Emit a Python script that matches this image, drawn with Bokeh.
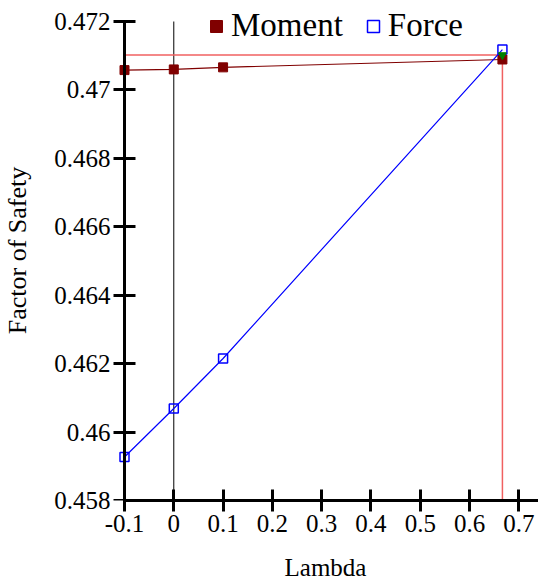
from bokeh.plotting import figure
from bokeh.models import Range1d, Legend, LegendItem, FixedTicker, LinearAxis
from bokeh.embed import file_html
from bokeh.resources import INLINE

# Data
lam = [-0.1, 0.0, 0.1, 0.6667]
moment = [0.47058, 0.47060, 0.47066, 0.47089]
force = [0.45927, 0.46069, 0.46215, 0.47118]
cross_lam = [0.6667]
cross_fs = [0.47102]
x_ticks = [-0.1, 0.0, 0.1, 0.2, 0.3, 0.4, 0.5, 0.6, 0.7]
x_labels = ["-0.1", "0", "0.1", "0.2", "0.3", "0.4", "0.5", "0.6", "0.7"]
y_ticks = [0.458, 0.460, 0.462, 0.464, 0.466, 0.468, 0.470, 0.472]
y_labels = ["0.458", "0.46", "0.462", "0.464", "0.466", "0.468", "0.47", "0.472"]

FONT = "Liberation Serif"

p = figure(width=538, height=585, output_backend="svg", toolbar_location=None,
           x_range=Range1d(-0.12435, 0.7399), y_range=Range1d(0.458, 0.472614),
           min_border_left=112, min_border_right=0, min_border_top=0, min_border_bottom=85)
p.outline_line_color = None
p.grid.visible = False
p.background_fill_color = "white"


def style(ax, ticks, labels):
    ax.ticker = FixedTicker(ticks=ticks)
    ax.major_label_overrides = {t: l for t, l in zip(ticks, labels)}
    ax.minor_tick_line_color = None
    ax.axis_line_width = 3
    ax.major_tick_line_width = 3
    ax.major_tick_in = 11
    ax.major_tick_out = 11
    ax.major_label_text_font = FONT
    ax.major_label_text_font_size = "25px"
    ax.major_label_text_color = "black"
    ax.axis_label_text_font = FONT
    ax.axis_label_text_font_size = "25px"
    ax.axis_label_text_font_style = "normal"
    ax.axis_label_text_color = "black"
    ax.major_label_standoff = 3


style(p.xaxis[0], x_ticks, x_labels)
p.xaxis.axis_label = "Lambda"
p.xaxis.axis_label_standoff = 19
p.xaxis.bounds = (x_ticks[0], 0.7399)

# y axis in the panel: labels only
yl = p.yaxis[0]
style(yl, y_ticks, y_labels)
yl.axis_line_color = None
yl.major_tick_line_color = None
yl.major_tick_out = 0
yl.major_tick_in = 0
yl.major_label_standoff = 2
yl.axis_label = "Factor of Safety"
yl.axis_label_text_font_size = "26px"
yl.axis_label_standoff = 19

# y axis line + ticks at lambda = -0.1
yline = LinearAxis()
style(yline, y_ticks, y_labels)
yline.major_label_text_color = None
yline.fixed_location = x_ticks[0]
yline.bounds = (y_ticks[0], y_ticks[-1])
yline.major_label_text_font_size = "1px"
p.add_layout(yline, "left")

# vertical line at lambda = 0
p.line([0.0, 0.0], [y_ticks[0], y_ticks[-1]], line_color="black", line_width=1)

# red crosshair at intersection
p.line([x_ticks[0], cross_lam[0]], [cross_fs[0], cross_fs[0]], line_color="#f06060", line_width=1.5)
p.line([cross_lam[0], cross_lam[0]], [cross_fs[0], y_ticks[0]], line_color="#f06060", line_width=1.5)

lm = p.line(lam, moment, line_color="#800000", line_width=1.2)
sm = p.scatter(lam, moment, marker="square", size=9, fill_color="#800000", line_color="#800000")
lf = p.line(lam, force, line_color="blue", line_width=1.2)
sf = p.scatter(lam, force, marker="square", size=9, fill_color=None, line_color="blue", line_width=1.5)
p.scatter(cross_lam, cross_fs, marker="inverted_triangle", size=8, fill_color="green", line_color="green")

legend = Legend(items=[LegendItem(label="Moment", renderers=[sm]),
                       LegendItem(label="Force", renderers=[sf])],
                orientation="horizontal", location=(89, 456),
                label_text_font=FONT, label_text_font_size="33px", label_text_color="black",
                glyph_width=30, glyph_height=30, label_standoff=0, spacing=15,
                padding=0, margin=0, border_line_color=None, background_fill_alpha=0)
p.add_layout(legend, "center")

open("out.html", "w").write(file_html(p, INLINE))
